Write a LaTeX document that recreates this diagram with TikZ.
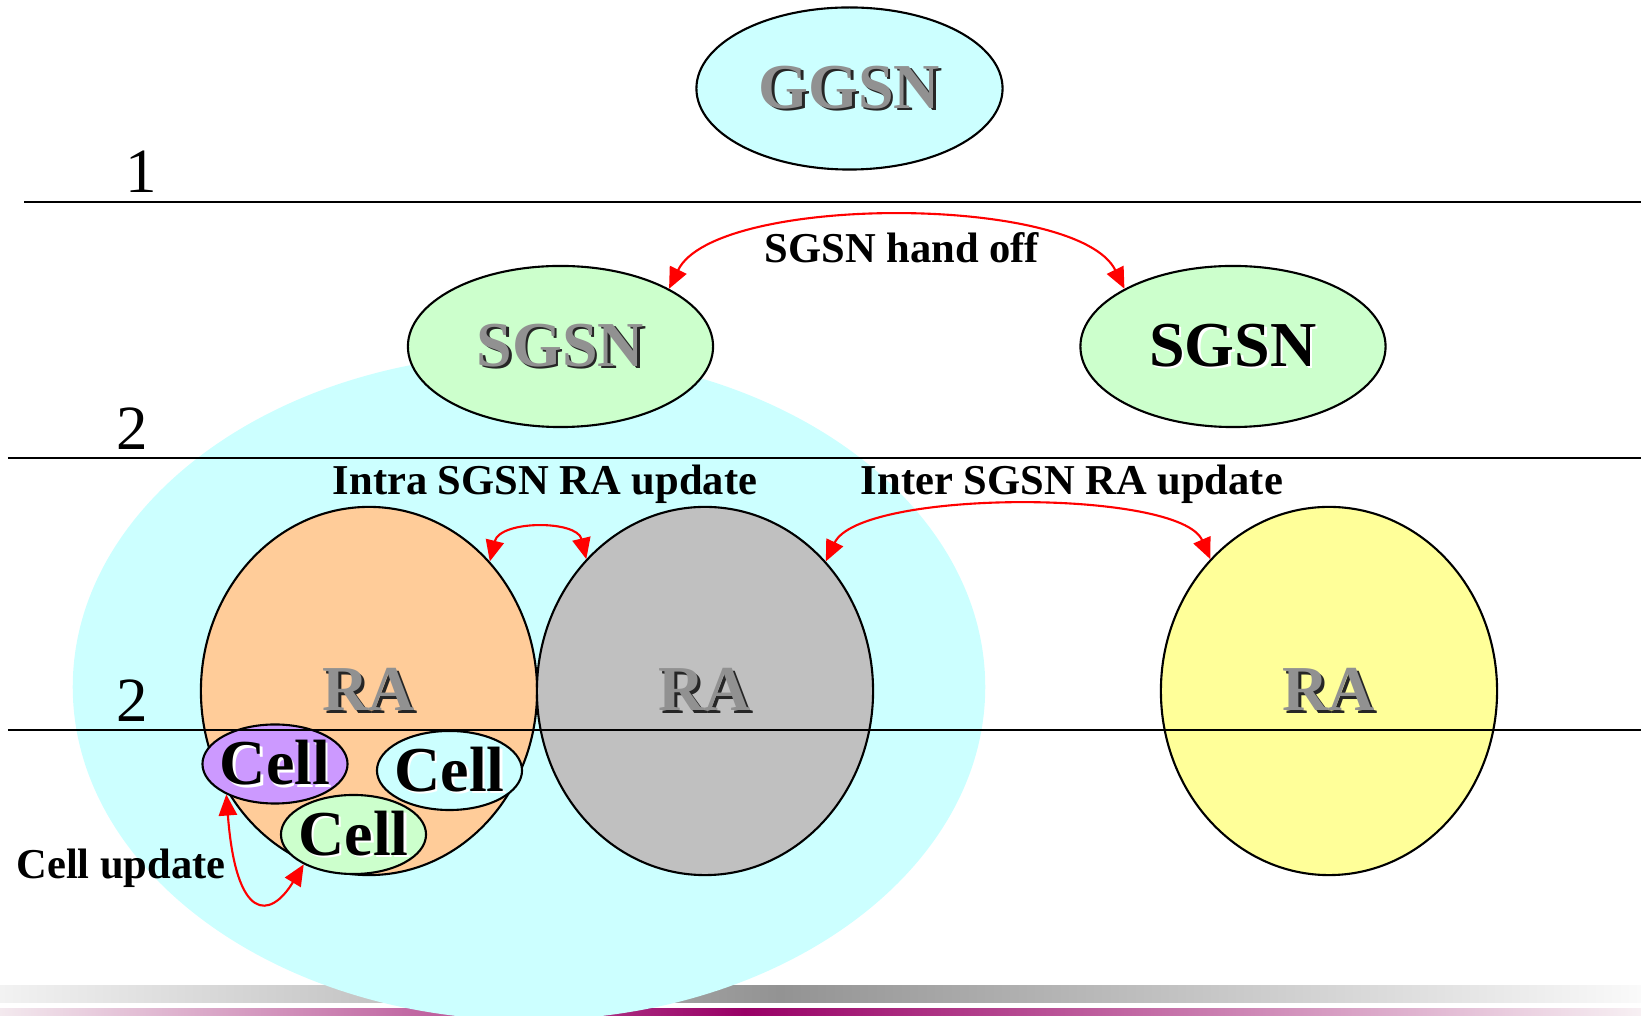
\documentclass[tikz,border=0pt]{standalone}
\usepackage{fontspec}
\setmainfont{Liberation Serif}
\usetikzlibrary{shapes.geometric, arrows.meta}

\definecolor{skycyan}{HTML}{CCFFFF}
\definecolor{mint}{HTML}{CCFFCC}
\definecolor{peach}{HTML}{FFCC99}
\definecolor{silver}{HTML}{C0C0C0}
\definecolor{lemon}{HTML}{FFFF99}
\definecolor{lilac}{HTML}{CC99FF}
\definecolor{labelgray}{HTML}{919191}
\definecolor{plum}{HTML}{990066}
\definecolor{barlight}{HTML}{F2F2F2}
\definecolor{bardark}{HTML}{939393}
\definecolor{barend}{HTML}{FAFAFA}
\definecolor{pinklight}{HTML}{F3E9EE}
\definecolor{pinkend}{HTML}{F7F0F3}

% text with an offset drop shadow: #1 shadow colour, #2 text colour, #3 text
\newcommand\shtext[3]{\leavevmode\rlap{\kern0.7pt\raisebox{-0.7pt}{\textcolor{#1}{#3}}}\textcolor{#2}{#3}}
\newcommand\graytitle[1]{\shtext{black!85}{labelgray}{#1}}
\newcommand\blacktitle[1]{\shtext{white}{black}{#1}}

\begin{document}
\begin{tikzpicture}[x=0.01cm, y=-0.01cm,
  outline/.style={draw=black, line width=0.6pt},
  oval/.style={ellipse, outline, inner sep=0pt},
  bigtext/.style={font=\fontsize{18.2pt}{21pt}\selectfont\bfseries, inner sep=0pt},
  netnode/.style={oval, minimum width=3.05cm, minimum height=1.61cm},
  areanode/.style={oval, minimum width=3.36cm, minimum height=3.68cm},
  cellnode/.style={oval, minimum width=1.45cm, minimum height=0.79cm},
  levelrule/.style={draw=black, line width=0.6pt},
  levelnum/.style={font=\fontsize{17.9pt}{21pt}\selectfont, inner sep=0pt, anchor=base},
  caption/.style={font=\fontsize{12.1pt}{14pt}\selectfont\bfseries, inner sep=0pt, anchor=base},
  moveline/.style={draw=red, line width=0.6pt,
    {Triangle[length=6pt,width=5.2pt]}-{Triangle[length=6pt,width=5.2pt]}}
]
\useasboundingbox (0,0) rectangle (1641,1016);
\clip (0,0) rectangle (1641,1016);

% footer bars
\shade[left color=barlight, right color=bardark] (0,986) rectangle (780,1003);
\shade[left color=bardark, right color=barend] (780,986) rectangle (1641,1003);
\shade[left color=pinklight, right color=plum] (0,1009) rectangle (745,1016);
\shade[left color=plum, right color=pinkend] (745,1009) rectangle (1641,1016);

% service area of the left SGSN
\node[ellipse, fill=skycyan, minimum width=9.12cm, minimum height=6.66cm, inner sep=0pt]
  (area) at (529,687) {};

% core network nodes
\node[netnode, fill=skycyan, minimum width=3.06cm, minimum height=1.62cm,
  label={[bigtext]center:\graytitle{GGSN}}] (ggsn) at (849.5,88.5) {};
\node[netnode, fill=mint, label={[bigtext]center:\graytitle{SGSN}}] (sgsnL) at (560.5,346.5) {};
\node[netnode, fill=mint, label={[bigtext]center:\blacktitle{SGSN}}] (sgsnR) at (1233,346.5) {};

% routing areas
\node[areanode, fill=peach, label={[bigtext]center:\graytitle{RA}}] (ra1) at (369,691) {};
\node[areanode, fill=silver, label={[bigtext]center:\graytitle{RA}}] (ra2) at (705,691) {};
\node[areanode, fill=lemon, label={[bigtext]center:\graytitle{RA}}] (ra3) at (1329,691) {};

% cells
\node[cellnode, fill=lilac, label={[bigtext]center:\blacktitle{Cell}}] (cellP) at (275,764) {};
\node[cellnode, fill=skycyan, label={[bigtext]center:\blacktitle{Cell}}] (cellC) at (449.5,770.5) {};
\node[cellnode, fill=mint, label={[bigtext]center:\blacktitle{Cell}}] (cellG) at (353.5,834.5) {};

% hierarchy levels
\draw[levelrule] (24,202) -- (1641,202);
\draw[levelrule] (8,458) -- (1641,458);
\draw[levelrule] (8,730) -- (1641,730);
\node[levelnum] (lvl1) at (141,193) {1};
\node[levelnum] (lvl2) at (132,450) {2};
\node[levelnum] (lvl3) at (132,722) {2};

% mobility procedures
\draw[moveline] (sgsnL.28) .. controls (715,194) and (1078,194) .. (sgsnR.152);
\draw[moveline] (ra1.47) .. controls (500,520) and (577,520) .. (ra2.132);
\draw[moveline] (ra2.47) .. controls (860,489) and (1180,489) .. (ra3.132);
\draw[moveline] (cellP.212) .. controls (236,922) and (270,920) .. (cellG.211);

\node[caption] (handoff) at (902,263) {SGSN hand off};
\node[caption] (intra) at (545,495) {Intra SGSN RA update};
\node[caption] (inter) at (1072,495) {Inter SGSN RA update};
\node[caption] (cellupd) at (121,879) {Cell update};
\end{tikzpicture}
\end{document}
